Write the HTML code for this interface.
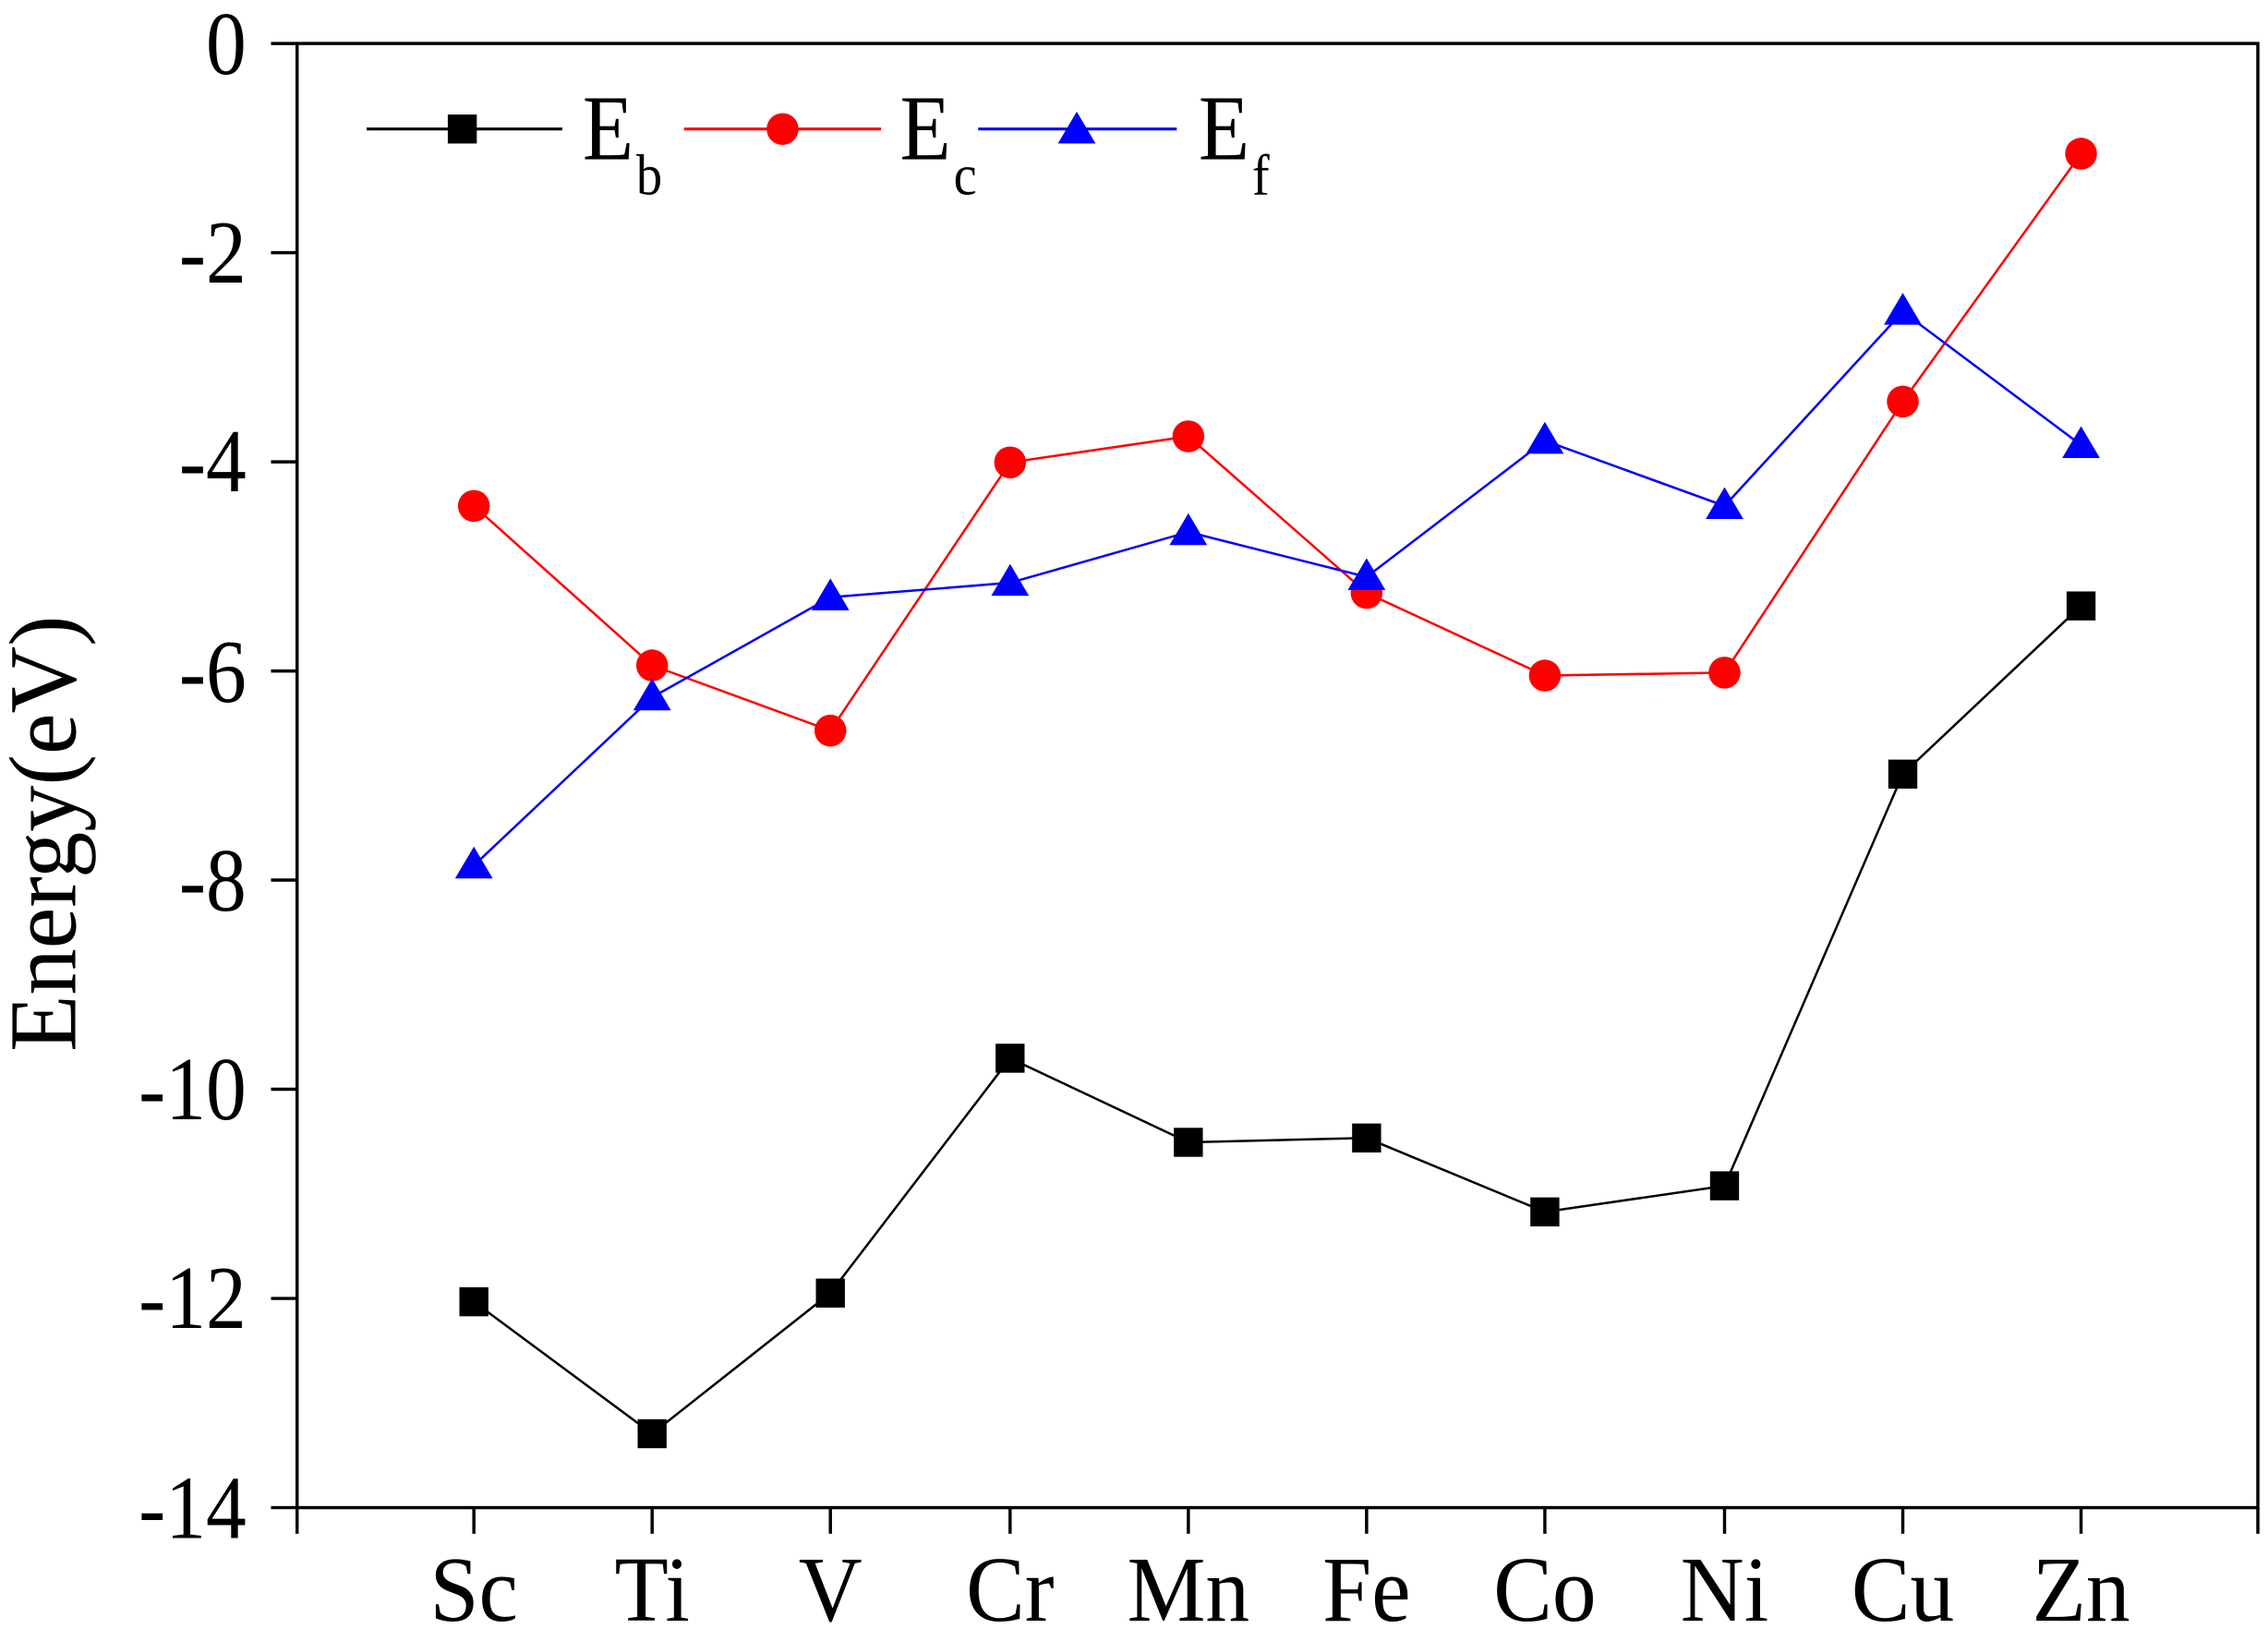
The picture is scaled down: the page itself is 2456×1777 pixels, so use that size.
<!DOCTYPE html>
<html><head><meta charset="utf-8"><style>html,body{margin:0;padding:0;background:#fff}svg{display:block}</style></head><body>
<svg width="2456" height="1777" viewBox="0 0 1565 1132" preserveAspectRatio="none" xmlns="http://www.w3.org/2000/svg" font-family="Liberation Serif, serif">
<rect x="205" y="30" width="1353" height="1010" fill="none" stroke="#000" stroke-width="2.2"/>
<g stroke="#000" stroke-width="2.2">
<line x1="187" y1="30" x2="205" y2="30"/><line x1="187" y1="174.3" x2="205" y2="174.3"/><line x1="187" y1="318.6" x2="205" y2="318.6"/><line x1="187" y1="462.9" x2="205" y2="462.9"/><line x1="187" y1="607.1" x2="205" y2="607.1"/><line x1="187" y1="751.4" x2="205" y2="751.4"/><line x1="187" y1="895.7" x2="205" y2="895.7"/><line x1="187" y1="1040" x2="205" y2="1040"/>
<line x1="205" y1="1040" x2="205" y2="1058"/><line x1="327" y1="1040" x2="327" y2="1058"/><line x1="450" y1="1040" x2="450" y2="1058"/><line x1="573" y1="1040" x2="573" y2="1058"/><line x1="697" y1="1040" x2="697" y2="1058"/><line x1="820" y1="1040" x2="820" y2="1058"/><line x1="943" y1="1040" x2="943" y2="1058"/><line x1="1066" y1="1040" x2="1066" y2="1058"/><line x1="1190" y1="1040" x2="1190" y2="1058"/><line x1="1313" y1="1040" x2="1313" y2="1058"/><line x1="1436" y1="1040" x2="1436" y2="1058"/><line x1="1558" y1="1040" x2="1558" y2="1058"/>
</g>
<g font-size="62" text-anchor="end">
<text transform="translate(170,51) scale(0.9,1)">0</text>
<text transform="translate(170,195) scale(0.9,1)">-2</text>
<text transform="translate(170,339) scale(0.9,1)">-4</text>
<text transform="translate(170,484) scale(0.9,1)">-6</text>
<text transform="translate(170,628) scale(0.9,1)">-8</text>
<text transform="translate(170,772) scale(0.9,1)">-10</text>
<text transform="translate(170,916) scale(0.9,1)">-12</text>
<text transform="translate(170,1061) scale(0.9,1)">-14</text>
</g>
<g font-size="64" text-anchor="middle">
<text transform="translate(327,1118) scale(0.95,1)">Sc</text>
<text transform="translate(450,1118) scale(0.95,1)">Ti</text>
<text transform="translate(573,1118) scale(0.95,1)">V</text>
<text transform="translate(697,1118) scale(0.95,1)">Cr</text>
<text transform="translate(820,1118) scale(0.95,1)">Mn</text>
<text transform="translate(943,1118) scale(0.95,1)">Fe</text>
<text transform="translate(1066,1118) scale(0.95,1)">Co</text>
<text transform="translate(1190,1118) scale(0.95,1)">Ni</text>
<text transform="translate(1313,1118) scale(0.95,1)">Cu</text>
<text transform="translate(1436,1118) scale(0.95,1)">Zn</text>
</g>
<text transform="translate(52,575) rotate(-90) scale(0.97,1)" font-size="66" text-anchor="middle">Energy(eV)</text>
<polyline fill="none" stroke="#000" stroke-width="1.6" points="327,898 450,989 573,892 697,730 820,788 943,785 1066,836 1190,818 1313,534 1436,418"/>
<polyline fill="none" stroke="#f00" stroke-width="1.6" points="327,349 450,459 573,504 697,319 820,301 943,409 1066,466 1190,464 1313,277 1436,106"/>
<polyline fill="none" stroke="#00f" stroke-width="1.6" points="327,597 450,481 573,412 697,402 820,367 943,398 1066,304 1190,349 1313,215 1436,307"/>
<g fill="#000">
<rect x="317" y="888" width="20" height="20"/><rect x="440" y="979" width="20" height="20"/><rect x="563" y="882" width="20" height="20"/><rect x="687" y="720" width="20" height="20"/><rect x="810" y="778" width="20" height="20"/><rect x="933" y="775" width="20" height="20"/><rect x="1056" y="826" width="20" height="20"/><rect x="1180" y="808" width="20" height="20"/><rect x="1303" y="524" width="20" height="20"/><rect x="1426" y="408" width="20" height="20"/>
</g>
<g fill="#f00">
<circle cx="327" cy="349" r="11"/><circle cx="450" cy="459" r="11"/><circle cx="573" cy="504" r="11"/><circle cx="697" cy="319" r="11"/><circle cx="820" cy="301" r="11"/><circle cx="943" cy="409" r="11"/><circle cx="1066" cy="466" r="11"/><circle cx="1190" cy="464" r="11"/><circle cx="1313" cy="277" r="11"/><circle cx="1436" cy="106" r="11"/>
</g>
<g fill="#00f">
<polygon points="327,584 314,606 340,606"/><polygon points="450,468 437,490 463,490"/><polygon points="573,399 560,421 586,421"/><polygon points="697,389 684,411 710,411"/><polygon points="820,354 807,376 833,376"/><polygon points="943,385 930,407 956,407"/><polygon points="1066,291 1053,313 1079,313"/><polygon points="1190,336 1177,358 1203,358"/><polygon points="1313,202 1300,224 1326,224"/><polygon points="1436,294 1423,316 1449,316"/>
</g>
<line x1="253" y1="89" x2="388" y2="89" stroke="#000" stroke-width="2"/><rect x="309" y="79" width="20" height="20" fill="#000"/>
<line x1="472" y1="89" x2="608" y2="89" stroke="#f00" stroke-width="2"/><circle cx="540" cy="89" r="11" fill="#f00"/>
<line x1="675" y1="89" x2="812" y2="89" stroke="#00f" stroke-width="2"/><polygon points="743,77 730,99 756,99" fill="#00f"/>
<g font-size="64">
<text transform="translate(402,110) scale(0.9,1)">E</text><text transform="translate(439,134) scale(0.9,1)" font-size="40">b</text>
<text transform="translate(621,110) scale(0.9,1)">E</text><text transform="translate(658,134) scale(0.9,1)" font-size="40">c</text>
<text transform="translate(827,110) scale(0.9,1)">E</text><text transform="translate(864,134) scale(0.9,1)" font-size="40">f</text>
</g>
</svg>
</body></html>
